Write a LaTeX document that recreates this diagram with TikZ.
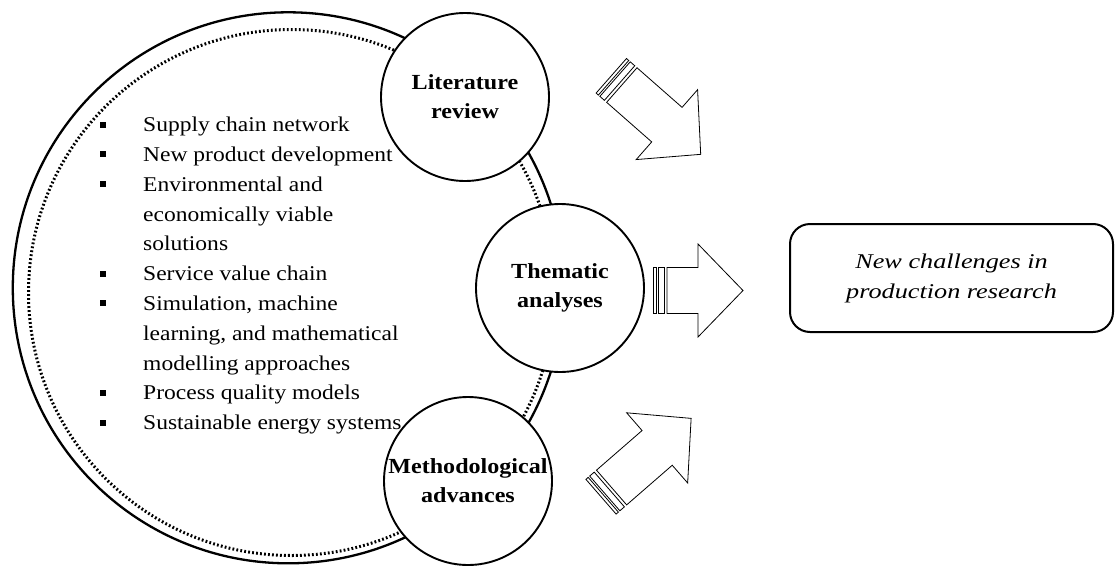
\documentclass[tikz,border=0pt]{standalone}
\usepackage{fontspec}
\setmainfont{Liberation Serif}[FakeStretch=1.12]
\newfontfamily\wideserif{Liberation Serif}[FakeStretch=1.25]
\newcommand\stripearrow[3]{%
  \begin{scope}[shift={#1}, rotate=#2]
    \draw[blockarrow] (0,-23) rectangle (3,23);
    \draw[blockarrow] (5,-23) rectangle (11,23);
    \draw[blockarrow] (14,-23) -- ({#3-45},-23) -- ({#3-45},-46.5) -- (#3,0)
      -- ({#3-45},46.5) -- ({#3-45},23) -- (14,23) -- cycle;
  \end{scope}}
\tikzset{
  blockarrow/.style={draw=black, line width=0.8pt, line join=miter, fill=white},
  topic/.style={circle, draw=black, line width=1.9pt, fill=white, minimum size=168pt,
    inner sep=0pt, align=center, font=\bfseries\fontsize{21.5}{29}\selectfont},
  itemtext/.style={anchor=base west, inner sep=0pt, font=\fontsize{21}{25}\selectfont},
  bul/.style={rectangle, fill=black, minimum size=6pt, inner sep=0pt},
  dotring/.style={draw=black, line width=3pt, dash pattern=on 1.8pt off 2.2pt},
}
\begin{document}
\begin{tikzpicture}[x=1pt, y=-1pt]
\useasboundingbox (0,0) rectangle (1115,565);
% outer circles
\node[circle, draw=black, line width=2.3pt, minimum size=551pt, inner sep=0pt] (outer) at (288.3,287.8) {};
\coordinate (inner) at (291.5,292.5);
\draw[dotring] (inner) circle [radius=263pt];
% list
\foreach \i/\t in {0/Supply chain network, 1/New product development, 2/Environmental and,
  3/economically viable, 4/solutions, 5/Service value chain, 6/{Simulation, machine},
  7/{learning, and mathematical}, 8/modelling approaches, 9/Process quality models,
  10/Sustainable energy systems}{
  \node[itemtext] (l\i) at (143, 131.7+\i*29.8) {\t};
}
\foreach \i in {0,1,2,5,6,9,10}{
  \node[bul] (b\i) at (103, 124.5+\i*29.8) {};
}
% topic circles
\node[topic] (lit) at (465,97) {Literature\\review};
\node[topic] (the) at (560,288) {Thematic\\analyses};
\node[topic] (met) at (468,481) {Methodological\\advances};
% arrows
\stripearrow{(611.3,75.8)}{-41.3}{119}
\stripearrow{(653,290.5)}{0}{90}
\stripearrow{(601,496.7)}{41}{119.4}
% result box
\node[draw=black, line width=2pt, rounded corners=20pt, minimum width=323pt, minimum height=108pt,
  align=center, font=\wideserif\itshape\fontsize{21}{30}\selectfont] (res) at (951.5,278)
  {New challenges in\\production research};
\end{tikzpicture}
\end{document}
